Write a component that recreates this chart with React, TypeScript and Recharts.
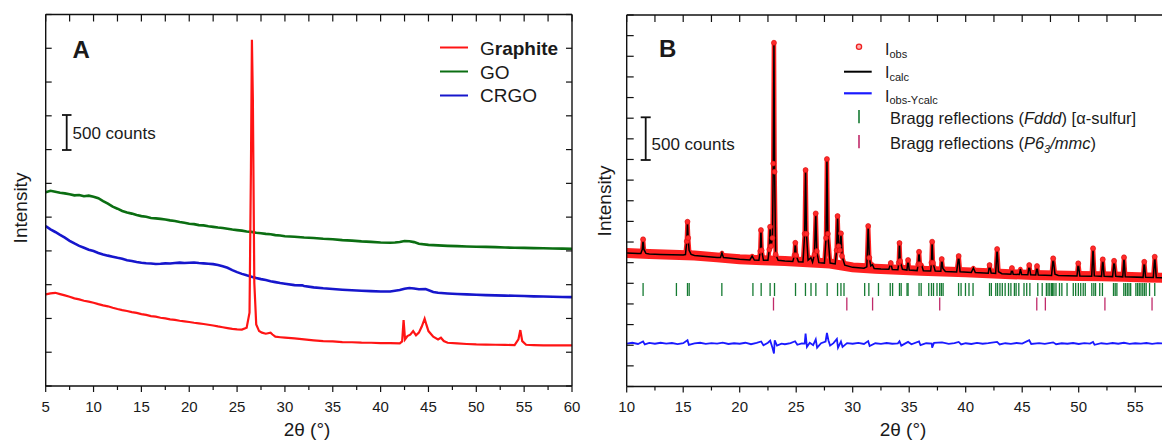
import { ComposedChart, Line, Scatter, XAxis, YAxis } from 'recharts';

type Pt = [number, number];

const FONT = '"Liberation Sans", Arial, Helvetica, sans-serif';

// ---- panel A : XRD of graphite, GO, CRGO (counts, curves offset) ----
const graphite: Pt[] = [
  [5, 1356], [5.5, 1372], [6, 1380], [6.5, 1360], [7, 1341], [7.5, 1322], [8, 1297], [8.5, 1282], [9, 1262],
  [9.5, 1250], [10, 1233], [10.5, 1212], [11, 1193], [11.5, 1180], [12, 1159], [12.5, 1140], [13, 1124],
  [13.5, 1110], [14, 1094], [14.5, 1082], [15, 1065], [15.5, 1052], [16, 1035], [16.5, 1026], [17, 1011],
  [17.5, 1000], [18, 986], [18.5, 980], [19, 966], [19.5, 958], [20, 947], [20.5, 936], [21, 927], [21.5, 918],
  [22, 907], [22.5, 896], [23, 882], [23.5, 870], [24, 858], [24.5, 846], [25, 838], [25.5, 836], [26, 863],
  [26.3, 1085], [26.45, 3254], [26.55, 5127], [26.65, 4240], [26.8, 1528], [27, 912], [27.3, 813], [27.6, 790],
  [28, 774], [28.5, 790], [28.7, 762], [29, 730], [29.5, 722], [30, 715], [31, 704], [32, 690], [33, 676],
  [34, 665], [35, 660], [36, 651], [37, 648], [38, 641], [39, 640], [40, 636], [41, 634], [42, 631],
  [42.25, 660], [42.4, 976], [42.55, 690], [42.8, 740], [43.1, 760], [43.4, 813], [43.7, 749], [44, 790],
  [44.3, 880], [44.6, 996], [44.8, 900], [45, 813], [45.5, 730], [46, 690], [46.3, 715], [46.6, 665],
  [47, 640], [48, 631], [49, 622], [50, 616], [51, 614], [52, 611], [53, 608], [54, 606], [54.4, 690],
  [54.6, 828], [54.8, 665], [55.2, 611], [56, 606], [57, 601], [58, 603], [59, 600], [60, 601],
];
const grapheneOxide: Pt[] = [
  [5, 2869], [5.5, 2890], [6, 2876], [6.5, 2860], [7, 2852], [7.5, 2838], [8, 2822], [8.5, 2828], [9, 2810],
  [9.5, 2818], [10, 2802], [10.5, 2780], [11, 2738], [11.5, 2700], [12, 2655], [12.5, 2625], [13, 2592],
  [13.5, 2570], [14, 2552], [14.5, 2530], [15, 2515], [15.5, 2505], [16, 2488], [16.5, 2482], [17, 2474],
  [17.5, 2466], [18, 2452], [18.5, 2444], [19, 2428], [19.5, 2416], [20, 2402], [20.5, 2396], [21, 2382],
  [21.5, 2378], [22, 2366], [22.5, 2356], [23, 2346], [23.5, 2340], [24, 2328], [24.5, 2316], [25, 2308],
  [25.5, 2300], [26, 2288], [26.5, 2282], [27, 2268], [27.5, 2262], [28, 2252], [28.5, 2246], [29, 2234],
  [29.5, 2228], [30, 2218], [31, 2210], [32, 2198], [33, 2192], [34, 2180], [35, 2172], [36, 2160], [37, 2152],
  [38, 2141], [39, 2134], [40, 2125], [41, 2120], [41.5, 2124], [42, 2132], [42.5, 2146], [43, 2144],
  [43.5, 2130], [44, 2106], [45, 2090], [46, 2082], [47, 2075], [48, 2071], [49, 2066], [50, 2061], [51, 2060],
  [52, 2056], [53, 2050], [54, 2047], [55, 2045], [56, 2041], [57, 2040], [58, 2036], [59, 2034], [60, 2031],
];
const crgo: Pt[] = [
  [5, 2366], [5.5, 2318], [6, 2280], [6.5, 2236], [7, 2196], [7.5, 2150], [8, 2110], [8.5, 2074], [9, 2046],
  [9.5, 2018], [10, 1998], [10.5, 1970], [11, 1948], [11.5, 1930], [12, 1914], [12.5, 1898], [13, 1884],
  [13.5, 1862], [14, 1850], [14.5, 1836], [15, 1824], [15.5, 1818], [16, 1814], [16.5, 1806], [17, 1810],
  [17.5, 1816], [18, 1814], [18.5, 1822], [19, 1826], [19.5, 1820], [20, 1824], [20.5, 1828], [21, 1820],
  [21.5, 1816], [22, 1810], [22.5, 1804], [23, 1790], [23.5, 1772], [24, 1750], [24.5, 1716], [25, 1686],
  [25.5, 1660], [26, 1638], [26.5, 1618], [27, 1598], [27.5, 1582], [28, 1568], [28.5, 1552], [29, 1538],
  [29.5, 1524], [30, 1514], [31, 1494], [31.8, 1490], [32, 1480], [33, 1460], [34, 1446], [35, 1436],
  [36, 1426], [37, 1418], [38, 1410], [39, 1404], [40, 1400], [41, 1400], [42, 1420], [42.5, 1440],
  [43, 1450], [43.5, 1444], [44, 1432], [44.7, 1436], [45.5, 1392], [46, 1381], [47, 1370], [48, 1362],
  [49, 1356], [50, 1351], [51, 1346], [52, 1341], [53, 1338], [54, 1336], [55, 1332], [56, 1327], [57, 1324],
  [58, 1321], [59, 1318], [60, 1316],
];

// ---- panel B : Rietveld fit (counts) ----
const fitProfile: Pt[] = [
  [10, 1617], [10.5, 1614], [11, 1611], [11.25, 1612], [11.38, 1660], [11.45, 1783], [11.52, 1660], [11.7, 1612],
  [12, 1606], [13, 1600], [14, 1597], [15, 1593], [15.2, 1598], [15.32, 1760], [15.38, 1996], [15.44, 1800],
  [15.52, 1650], [15.7, 1600], [16, 1588], [17, 1576], [18, 1564], [18.3, 1563], [18.43, 1617], [18.56, 1562],
  [19, 1556], [20, 1541], [20.9, 1533], [21.1, 1580], [21.3, 1531], [21.7, 1530], [21.82, 1640], [21.88, 1895],
  [21.94, 1650], [22.1, 1530], [22.5, 1530], [22.62, 1660], [22.69, 1935], [22.78, 1700], [22.9, 1800],
  [22.97, 2700], [23.03, 4164], [23.09, 2600], [23.18, 1600], [23.4, 1528], [24, 1520], [24.7, 1514],
  [24.85, 1590], [24.92, 1741], [24.99, 1590], [25.2, 1510], [25.6, 1508], [25.75, 1850], [25.83, 2622],
  [25.91, 1850], [26.05, 1530], [26.3, 1560], [26.45, 1505], [26.62, 1600], [26.73, 2097], [26.82, 1640],
  [27, 1500], [27.5, 1495], [27.64, 1800], [27.72, 2755], [27.8, 1850], [28, 1495], [28.45, 1485],
  [28.58, 1650], [28.66, 2065], [28.75, 1700], [28.85, 1650], [28.96, 1855], [29.05, 1580], [29.3, 1470],
  [30, 1443], [31, 1432], [31.25, 1450], [31.37, 1944], [31.47, 1560], [31.6, 1460], [31.75, 1475],
  [31.9, 1430], [32.5, 1424], [33.2, 1420], [33.37, 1496], [33.5, 1418], [34, 1414], [34.08, 1500],
  [34.14, 1738], [34.2, 1520], [34.4, 1420], [34.8, 1410], [34.9, 1532], [35, 1410], [35.7, 1404],
  [35.8, 1480], [35.87, 1632], [35.95, 1480], [36.1, 1470], [36.25, 1402], [36.9, 1399], [36.97, 1500],
  [37.03, 1754], [37.1, 1500], [37.3, 1400], [37.8, 1396], [37.88, 1544], [37.98, 1430], [38.2, 1392],
  [39.2, 1388], [39.38, 1580], [39.5, 1390], [40.5, 1382], [40.68, 1435], [40.85, 1380], [42, 1373],
  [42.11, 1471], [42.25, 1375], [42.65, 1370], [42.78, 1665], [42.9, 1390], [43.2, 1366], [44, 1361],
  [44.09, 1435], [44.2, 1360], [44.75, 1357], [44.84, 1423], [44.95, 1356], [45.5, 1353], [45.62, 1471],
  [45.75, 1353], [46.2, 1351], [46.31, 1459], [46.42, 1350], [47.6, 1346], [47.74, 1552], [47.9, 1360],
  [48.2, 1344], [49.85, 1339], [49.96, 1492], [50.1, 1339], [51.15, 1336], [51.27, 1674], [51.38, 1340],
  [52.02, 1334], [52.13, 1540], [52.25, 1334], [53, 1331], [53.13, 1523], [53.28, 1335], [53.9, 1328],
  [54.01, 1565], [54.12, 1330], [55.7, 1322], [55.8, 1511], [55.92, 1322], [56.6, 1320], [56.73, 1572],
  [56.86, 1320], [57.5, 1318], [58, 1316], [60, 1314],
];
// the observed background (thick noisy red band under the fit)
const obsBackground: Pt[] = [
  [10, 1617], [12, 1606], [14, 1597], [16, 1588], [18, 1564], [20, 1541], [22, 1530], [24, 1520], [26, 1505],
  [28, 1490], [30, 1443], [32, 1426], [34, 1414], [36, 1403], [38, 1393], [40, 1384], [42, 1373], [44, 1361],
  [46, 1351], [48, 1344], [50, 1339], [52, 1334], [54, 1328], [56, 1321], [58, 1316], [60, 1314],
];
const difference: Pt[] = [
  [10, 520], [10.5, 530], [11, 515], [11.45, 545], [11.6, 510], [12, 528], [12.5, 518], [13, 530], [13.5, 520],
  [14, 527], [14.5, 514], [15, 525], [15.38, 560], [15.5, 505], [16, 522], [16.5, 530], [17, 516], [17.5, 526],
  [18, 519], [18.5, 532], [19, 515], [19.5, 524], [20, 518], [20.5, 530], [21, 512], [21.5, 528], [21.9, 545],
  [22.1, 500], [22.5, 530], [22.7, 555], [22.9, 470], [23.03, 400], [23.1, 560], [23.3, 495], [23.7, 520],
  [24, 512], [24.5, 526], [24.9, 548], [25.1, 505], [25.5, 522], [25.75, 520], [25.83, 640], [25.95, 480],
  [26.2, 530], [26.5, 500], [26.73, 570], [26.85, 470], [27.2, 525], [27.6, 545], [27.72, 650], [27.85, 560],
  [28, 495], [28.3, 525], [28.6, 575], [28.7, 470], [28.96, 545], [29.1, 480], [29.5, 525], [30, 518],
  [30.5, 528], [31, 515], [31.37, 550], [31.5, 490], [32, 524], [32.5, 516], [33, 527], [33.5, 518], [34, 522],
  [34.14, 548], [34.3, 495], [34.9, 540], [35.2, 512], [35.87, 545], [36, 500], [36.5, 524], [37, 520],
  [37.03, 470], [37.2, 530], [37.9, 535], [38.5, 516], [39, 526], [39.38, 540], [39.6, 510], [40, 524],
  [40.5, 515], [41, 528], [41.5, 518], [42, 525], [42.78, 540], [43, 510], [43.5, 524], [44, 517], [44.5, 527],
  [45, 519], [45.62, 560], [45.8, 515], [46.5, 525], [47, 516], [47.74, 535], [48, 512], [48.5, 524], [49, 518],
  [49.5, 527], [50, 515], [50.5, 525], [51, 519], [51.27, 540], [51.4, 505], [52, 524], [52.5, 517], [53, 527],
  [53.5, 518], [54, 530], [54.5, 516], [55, 524], [55.5, 519], [56, 527], [56.5, 517], [57, 525], [58, 520],
  [60, 522],
];
const braggFddd: number[] = [
  11.45, 14.4, 15.38, 15.53, 18.42, 21.17, 21.9, 22.69, 23.08, 24.94, 25.82, 26.31, 26.74, 27.74, 28.66, 28.96,
  29.23, 31.06, 31.43, 32.28, 33.32, 33.53, 34.14, 34.29, 34.81, 34.9, 35.87, 36.06, 36.73, 36.97, 37.15, 37.46,
  37.7, 37.85, 38.0, 39.37, 39.59, 39.98, 40.29, 40.65, 42.11, 42.27, 42.66, 42.82, 43.03, 43.24, 43.49, 43.79,
  44.0, 44.31, 44.46, 44.7, 45.16, 45.4, 45.68, 46.38, 46.77, 47.14, 47.29, 47.44, 47.6, 47.69, 47.81, 47.99,
  48.3, 48.51, 48.97, 49.52, 49.73, 49.97, 50.18, 50.4, 50.58, 51.16, 51.34, 51.49, 51.86, 52.1, 53.08, 53.23,
  53.38, 53.99, 54.14, 54.3, 54.45, 54.6, 55.06, 55.21, 55.36, 55.51, 55.67, 55.82, 55.97, 56.27, 56.73,
];
const braggP63: number[] = [22.99, 29.48, 31.76, 37.7, 46.29, 47.05, 52.32, 56.49];
const braggLevelFddd = 1175;
const braggLevelP63 = 1000;

const xTicksA = [5, 7.5, 10, 12.5, 15, 17.5, 20, 22.5, 25, 27.5, 30, 32.5, 35, 37.5, 40, 42.5, 45, 47.5, 50, 52.5, 55, 57.5, 60];
const yTicksA = [0, 500, 1000, 1500, 2000, 2500, 3000, 3500, 4000, 4500, 5000, 5500];
const xTicksB = [10, 12.5, 15, 17.5, 20, 22.5, 25, 27.5, 30, 32.5, 35, 37.5, 40, 42.5, 45, 47.5, 50, 52.5, 55, 57.5, 60];
const yTicksB = [0, 250, 500, 750, 1000, 1250, 1500, 1750, 2000, 2250, 2500, 2750, 3000, 3250, 3500, 3750, 4000, 4250, 4500];

const rows = (pts: Pt[]) => pts.map(([x, y]) => ({ x, y }));
const marks = (xs: number[], level: number) => xs.map((x) => ({ x, y: level }));

// background level at x (for deciding which observed points stand out of the red band)
function bandAt(x: number) {
  for (let i = 1; i < obsBackground.length; i++) {
    const [x0, y0] = obsBackground[i - 1];
    const [x1, y1] = obsBackground[i];
    if (x <= x1) return y0 + ((y1 - y0) * (x - x0)) / (x1 - x0);
  }
  return obsBackground[obsBackground.length - 1][1];
}

function ObsDot(p: any) {
  const { cx, cy, payload, index } = p;
  if (payload.y - bandAt(payload.x) < 70) return <g key={`d${index}`} />;
  return <circle key={`d${index}`} cx={cx} cy={cy} r={2.5} fill="#ff2a2a" stroke="#d81010" strokeWidth={0.6} />;
}

type Side = 'bottom' | 'top' | 'left' | 'right';

// draws the tick line itself (major every 5 on x axes) and the label for major x ticks
const makeTick = (side: Side, major: number, minor: number, maxLabel: number | null) => (p: any) => {
  const { x, y, payload } = p;
  const v = payload.value as number;
  const isMajor = side === 'left' || side === 'right' ? true : v % 5 === 0;
  const len = isMajor ? major : minor;
  let x2 = x;
  let y2 = y;
  if (side === 'bottom' || side === 'top') y2 = y + len;
  if (side === 'left') x2 = x + len;
  if (side === 'right') x2 = x - len;
  return (
    <g>
      <line x1={x} y1={y} x2={x2} y2={y2} stroke="#111" strokeWidth={1.2} />
      {maxLabel !== null && isMajor && v <= maxLabel && (
        <text x={x} y={y + 25.5} textAnchor="middle" fontSize={15} fill="#1a1a1a" fontFamily={FONT}>
          {v}
        </text>
      )}
    </g>
  );
};

const axisLine = { stroke: '#111', strokeWidth: 1.4 };

function braggMark(color: string) {
  return (p: any) => (
    <line x1={p.cx} x2={p.cx} y1={p.cy - 6.5} y2={p.cy + 6.5} stroke={color} strokeWidth={1.3} />
  );
}

function PanelA() {
  return (
    <ComposedChart width={590} height={441} margin={{ top: 4.5, right: 8, bottom: 25, left: 5.7 }}>
      <XAxis xAxisId="b" type="number" dataKey="x" domain={[5, 60]} ticks={xTicksA} interval={0}
        allowDataOverflow height={30} tickSize={0} tickMargin={0} axisLine={axisLine} tickLine={false}
        tick={makeTick('bottom', 6, 4, 60)} />
      <XAxis xAxisId="t" orientation="top" type="number" dataKey="x" domain={[5, 60]} ticks={xTicksA}
        interval={0} allowDataOverflow height={10} tickSize={0} tickMargin={0} axisLine={axisLine}
        tickLine={false} tick={makeTick('top', 7, 7, null)} />
      <YAxis yAxisId="l" type="number" domain={[0, 5500]} ticks={yTicksA} interval={0} allowDataOverflow
        width={40} tickSize={0} tickMargin={0} axisLine={axisLine} tickLine={false}
        tick={makeTick('left', 6, 6, null)} />
      <YAxis yAxisId="r" orientation="right" type="number" domain={[0, 5500]} ticks={yTicksA} interval={0}
        allowDataOverflow width={10} tickSize={0} tickMargin={0} axisLine={axisLine} tickLine={false}
        tick={makeTick('right', 6, 6, null)} />
      <Line xAxisId="b" yAxisId="l" data={rows(grapheneOxide)} dataKey="y" stroke="#0b6e12" strokeWidth={2.6}
        dot={false} activeDot={false} isAnimationActive={false} />
      <Line xAxisId="b" yAxisId="l" data={rows(crgo)} dataKey="y" stroke="#1616cc" strokeWidth={2.6}
        dot={false} activeDot={false} isAnimationActive={false} />
      <Line xAxisId="b" yAxisId="l" data={rows(graphite)} dataKey="y" stroke="#ff1414" strokeWidth={2.2}
        dot={false} activeDot={false} isAnimationActive={false} />
    </ComposedChart>
  );
}

function PanelB() {
  const fit = rows(fitProfile);
  return (
    <ComposedChart width={640} height={441} margin={{ top: 5, right: 18.3, bottom: 24.5, left: 6.7 }}>
      <XAxis xAxisId="b" type="number" dataKey="x" domain={[10, 60]} ticks={xTicksB} interval={0}
        allowDataOverflow height={30} tickSize={0} tickMargin={0} axisLine={axisLine} tickLine={false}
        tick={makeTick('bottom', 6, 4, 55)} />
      <XAxis xAxisId="t" orientation="top" type="number" dataKey="x" domain={[10, 60]} ticks={xTicksB}
        interval={0} allowDataOverflow height={10} tickSize={0} tickMargin={0} axisLine={axisLine}
        tickLine={false} tick={makeTick('top', 7, 7, null)} />
      <YAxis yAxisId="l" type="number" domain={[0, 4500]} ticks={yTicksB} interval={0} allowDataOverflow
        width={40} tickSize={0} tickMargin={0} axisLine={axisLine} tickLine={false}
        tick={makeTick('left', 7, 7, null)} />
      <YAxis yAxisId="r" orientation="right" type="number" domain={[0, 4500]} ticks={yTicksB} interval={0}
        allowDataOverflow width={10} tickSize={0} tickMargin={0} axisLine={axisLine} tickLine={false}
        tick={makeTick('right', 7, 7, null)} />
      <Line xAxisId="b" yAxisId="l" data={rows(obsBackground)} dataKey="y" stroke="#ff2020" strokeWidth={10}
        dot={false} activeDot={false} isAnimationActive={false} legendType="none" />
      <Line xAxisId="b" yAxisId="l" data={fit} dataKey="y" stroke="#ff2020" strokeWidth={4.5}
        strokeLinejoin="round" dot={ObsDot} activeDot={false} isAnimationActive={false} />
      <Line xAxisId="b" yAxisId="l" data={fit} dataKey="y" stroke="#000" strokeWidth={1.5}
        dot={false} activeDot={false} isAnimationActive={false} />
      <Line xAxisId="b" yAxisId="l" data={rows(difference)} dataKey="y" stroke="#1a1aff" strokeWidth={1.8}
        dot={false} activeDot={false} isAnimationActive={false} />
      <Scatter xAxisId="b" yAxisId="l" data={marks(braggFddd, braggLevelFddd)} dataKey="y"
        shape={braggMark('#157a32')} isAnimationActive={false} />
      <Scatter xAxisId="b" yAxisId="l" data={marks(braggP63, braggLevelP63)} dataKey="y"
        shape={braggMark('#c02a6a')} isAnimationActive={false} />
    </ComposedChart>
  );
}

function Overlay() {
  const t = { fontFamily: FONT, fill: '#1a1a1a' };
  const bar = { stroke: '#111', strokeWidth: 1.8 };
  return (
    <svg width={1162} height={441} style={{ position: 'absolute', left: 0, top: 0, pointerEvents: 'none' }}>
      {/* panel A */}
      <text x={72.5} y={57.5} fontSize={24} fontWeight="bold" {...t}>A</text>
      <line x1={66.7} x2={66.7} y1={115} y2={150} {...bar} />
      <line x1={62} x2={71.5} y1={115} y2={115} {...bar} />
      <line x1={62} x2={71.5} y1={150} y2={150} {...bar} />
      <text x={72.5} y={138.5} fontSize={17} {...t}>500 counts</text>
      <line x1={440} x2={468} y1={47.5} y2={47.5} stroke="#ff1414" strokeWidth={2} />
      <line x1={440} x2={468} y1={71.5} y2={71.5} stroke="#0b6e12" strokeWidth={2} />
      <line x1={440} x2={468} y1={95.5} y2={95.5} stroke="#1616cc" strokeWidth={2} />
      <text x={480} y={55} fontSize={19} {...t}>G<tspan fontWeight="bold">raphite</tspan></text>
      <text x={480} y={78.5} fontSize={19} {...t}>GO</text>
      <text x={480} y={102.3} fontSize={19} {...t}>CRGO</text>
      <text transform="translate(26.5,208) rotate(-90)" textAnchor="middle" fontSize={19} {...t}>Intensity</text>
      <text x={307} y={436} textAnchor="middle" fontSize={19} {...t}>2θ (°)</text>

      {/* panel B */}
      <text x={659} y={57} fontSize={24} fontWeight="bold" {...t}>B</text>
      <line x1={645.7} x2={645.7} y1={117.3} y2={160} {...bar} />
      <line x1={640.7} x2={650.7} y1={117.3} y2={117.3} {...bar} />
      <line x1={640.7} x2={650.7} y1={160} y2={160} {...bar} />
      <text x={651.5} y={149.5} fontSize={17} {...t}>500 counts</text>
      <circle cx={859} cy={46.7} r={2.6} fill="#ffb0b0" stroke="#ee2020" strokeWidth={1.3} />
      <line x1={844} x2={871.7} y1={71.7} y2={71.7} stroke="#000" strokeWidth={2} />
      <line x1={844} x2={871.7} y1={93.3} y2={93.3} stroke="#1a1aff" strokeWidth={2.2} />
      <line x1={859} x2={859} y1={110} y2={123.3} stroke="#157a32" strokeWidth={1.6} />
      <line x1={859} x2={859} y1={135} y2={148.3} stroke="#c02a6a" strokeWidth={1.6} />
      <text x={885} y={55} fontSize={16} {...t}>I<tspan fontSize={11} dy={2.5}>obs</tspan></text>
      <text x={885} y={78.3} fontSize={16} {...t}>I<tspan fontSize={11} dy={2.5}>calc</tspan></text>
      <text x={885} y={101.7} fontSize={16} {...t}>I<tspan fontSize={11} dy={2.5}>obs-Ycalc</tspan></text>
      <text x={890} y={124} fontSize={16.5} {...t}>
        Bragg reflections (<tspan fontStyle="italic">Fddd</tspan>) [α-sulfur]
      </text>
      <text x={890} y={149.3} fontSize={16.5} {...t}>
        Bragg reflections (<tspan fontStyle="italic">P6</tspan>
        <tspan fontStyle="italic" fontSize={11} dy={4}>3</tspan>
        <tspan fontStyle="italic" dy={-4}>/mmc</tspan>)
      </text>
      <text transform="translate(610.5,201) rotate(-90)" textAnchor="middle" fontSize={19} {...t}>Intensity</text>
      <text x={903} y={436} textAnchor="middle" fontSize={19} {...t}>2θ (°)</text>
    </svg>
  );
}

export default function App() {
  return (
    <div style={{ position: 'absolute', left: 0, top: 0, width: 1162, height: 441, overflow: 'hidden', background: '#fff' }}>
      <div style={{ position: 'absolute', left: 0, top: 0 }}>
        <PanelA />
      </div>
      <div style={{ position: 'absolute', left: 580, top: 0 }}>
        <PanelB />
      </div>
      <Overlay />
    </div>
  );
}
